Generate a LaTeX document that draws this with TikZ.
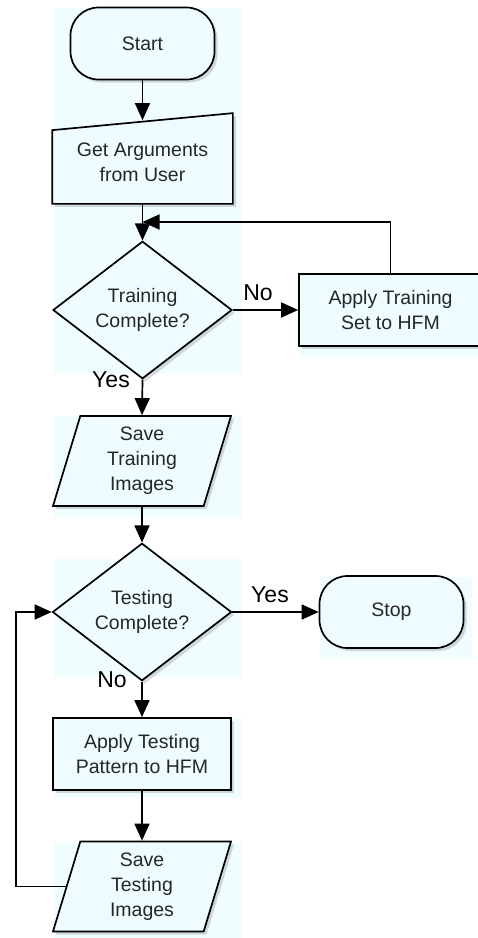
\documentclass[tikz,border=0pt]{standalone}
\usepackage{fontspec}
\setmainfont{Liberation Sans}
\usetikzlibrary{shapes.geometric, shadows, arrows.meta, backgrounds}
\definecolor{boxfill}{RGB}{238,252,255}
\definecolor{panelblue}{RGB}{240,253,255}

\begin{document}
\begin{tikzpicture}[x=1pt, y=-1pt,
  font=\fontsize{19.5}{25}\selectfont, line width=1.7pt,
  flow/.style={draw, fill=boxfill, text=black!85, align=center, line width=1.7pt,
    drop shadow={shadow xshift=3pt, shadow yshift=-3pt, opacity=.3}},
  terminal/.style={flow, rectangle, rounded corners=28pt, minimum width=144pt, minimum height=72pt},
  process/.style={flow, rectangle, minimum width=179pt, minimum height=72pt},
  decision/.style={flow, diamond, inner sep=0pt, minimum width=179pt, minimum height=106pt},
  iobox/.style={flow, trapezium, trapezium left angle=68, trapezium right angle=112,
    trapezium stretches body, inner sep=0pt, minimum width=178pt, minimum height=90pt},
  lbl/.style={font=\fontsize{23}{28}\selectfont},
  arr/.style={-{Triangle[length=17pt,width=15pt]}}]
  \useasboundingbox (0,0) rectangle (478,938);

  \node[terminal] (start) at (142.5,43.5) {Start};
  \node[align=center, text=black!85, inner sep=0pt, minimum width=179pt, minimum height=82pt]
    (args) at (142.5,162) {Get Arguments\\from User};
  \coordinate (join) at (142.5,222);
  \node[decision] (traindec) at (142.5,310) {Training\\Complete?};
  \node[process, minimum width=183pt] (applytrain) at (390.5,310) {Apply Training\\Set to HFM};
  \node[iobox] (savetrain) at (142,461) {Save\\Training\\Images};
  \node[decision] (testdec) at (142,612) {Testing\\Complete?};
  \node[terminal] (stop) at (391.5,612) {Stop};
  \node[process, minimum width=178pt] (applytest) at (142,754) {Apply Testing\\Pattern to HFM};
  \node[iobox] (savetest) at (142,886.5) {Save\\Testing\\Images};
  \coordinate (loopx) at (16,0);

  \node[lbl] (no1) at (258,293) {No};
  \node[lbl] (yes1) at (111,380) {Yes};
  \node[lbl] (yes2) at (270,595) {Yes};
  \node[lbl] (no2) at (112,680) {No};

  \draw[arr] (start) -- (args.north);
  \draw[arr] (args.south) -- (traindec.north);
  \draw[arr] (traindec.east) -- (applytrain.west);
  \draw[arr] (applytrain.north) |- (join);
  \draw[arr] (traindec.south) -- (savetrain.north);
  \draw[arr] (savetrain.south) -- (testdec.north);
  \draw[arr] (testdec.east) -- (stop.west);
  \draw[arr] (testdec.south) -- (applytest.north);
  \draw[arr] (applytest.south) -- (savetest.north);
  \draw[arr] (savetest.west) -- (savetest.west -| loopx) |- (testdec.west);

  \begin{scope}[on background layer]
    \fill[panelblue] (54,8) rectangle (242,373);
    \fill[panelblue] (300,276) rectangle (480,357);
    \fill[panelblue] (54,416) rectangle (242,517);
    \fill[panelblue] (54,559) rectangle (242,677);
    \fill[panelblue] (320,577) rectangle (472,659);
    \fill[panelblue] (54,718) rectangle (242,798);
    \fill[panelblue] (54,843) rectangle (242,938);
    \draw[draw=black, line width=1.7pt, fill=boxfill,
      drop shadow={shadow xshift=3pt, shadow yshift=-3pt, opacity=.3}]
      (args.south west) -- (args.south east) -- ([yshift=7pt]args.north east)
      -- ([yshift=-10pt]args.north west) -- cycle;
  \end{scope}
\end{tikzpicture}
\end{document}
